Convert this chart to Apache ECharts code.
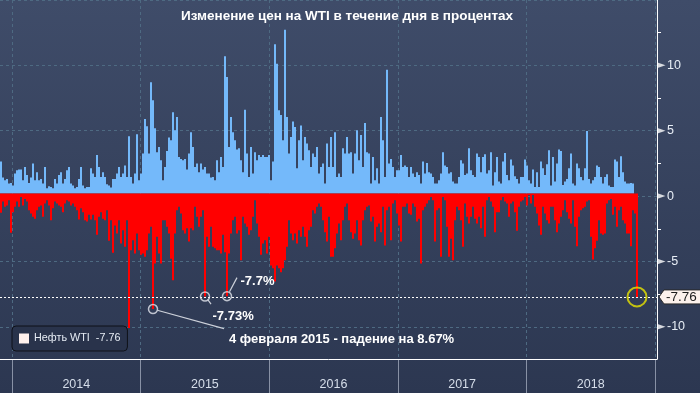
<!DOCTYPE html>
<html><head><meta charset="utf-8">
<script src="https://cdn.jsdelivr.net/npm/echarts@6/dist/echarts.min.js"></script>
<style>html,body{margin:0;padding:0;background:#2e3954}#c{width:700px;height:393px}</style>
</head><body><div id="c"></div>
<script>
// ---- data (~2px buckets of daily % changes) ----
const years = ['2014','2015','2016','2017','2018'];
const yTicks = [-10,-5,0,5,10];
const upMoves = [
2.4,1.2,1.0,1.1,0.75,0.8,0.6,1.5,1.75,1.8,
1.8,1.0,2.0,1.4,0.8,1.2,2.25,1.0,1.6,1.0,
1.1,0.75,2.0,0.4,0.55,0.5,0.4,1.1,0.75,1.4,
1.6,0.75,1.1,1.75,2.0,0.75,0.6,0.4,0.5,1.1,
2.0,0.6,0.4,0.5,0.5,1.9,1.5,1.25,2.9,2.0,
1.25,1.6,1.25,0.7,0.6,0.45,1.1,1.1,1.5,2.0,
1.25,1.5,2.1,1.25,4.3,1.25,0.75,1.5,4.45,1.0,
1.5,3.0,5.6,5.05,3.0,8.35,7.0,4.9,3.1,3.5,
2.5,1.0,2.0,3.2,4.2,4.0,6.1,4.75,5.75,2.75,
2.6,2.5,2.6,1.8,3.0,4.6,3.5,2.0,2.25,1.6,
2.25,1.8,2.0,1.5,1.5,1.2,1.25,1.0,2.5,1.6,
2.75,2.0,10.3,8.75,3.5,5.75,4.6,4.0,3.3,3.4,
2.5,1.6,6.3,3.0,1.25,3.5,1.5,3.1,2.5,2.9,
2.75,2.9,2.75,2.75,2.9,1.0,2.4,11.2,9.75,6.25,
5.9,4.0,12.3,5.75,3.0,4.25,5.4,5.0,1.9,4.0,
5.1,2.5,4.25,3.75,3.25,2.0,3.0,2.75,3.5,1.5,
2.0,2.25,0.75,3.75,2.0,4.25,2.0,4.6,1.25,1.5,
1.25,3.4,3.0,4.25,3.0,3.1,1.5,3.0,4.75,2.5,
4.4,2.0,5.3,3.1,3.0,0.75,2.75,1.0,1.9,0.75,
5.75,4.0,1.25,9.3,2.25,2.6,2.0,1.25,1.75,1.75,
2.9,2.0,2.1,2.0,1.25,2.0,1.5,1.25,1.6,1.4,
0.75,2.4,1.5,2.3,1.6,1.5,1.25,0.75,0.75,1.0,
1.5,3.1,2.1,2.0,1.5,1.6,0.9,0.75,0.75,1.25,
2.5,2.25,1.4,1.5,3.4,1.75,1.4,1.25,3.0,2.75,
1.6,2.75,2.95,1.5,1.75,3.1,0.6,1.6,2.75,0.9,
0.75,2.4,3.05,1.4,1.0,2.55,2.1,1.3,1.1,0.75,
1.25,1.25,2.55,2.1,1.0,0.75,1.8,0.5,1.6,0.5,
2.4,1.9,1.4,2.2,3.25,0.6,2.75,0.9,2.25,3.3,
3.2,0.65,0.9,1.1,1.9,3.0,0.75,0.6,2.25,1.9,
1.25,1.0,1.9,4.7,1.1,0.75,1.0,1.25,2.1,2.0,
1.25,0.75,1.25,1.45,0.6,0.5,0.5,2.55,2.4,1.25,
2.8,1.6,0.9,0.75,0.75,0.8,0.75,0,0
];
const downMoves = [
-1.45,-0.6,-1.0,-0.9,-0.5,-2.95,-1.4,-1.0,-0.6,-1.0,
-0.25,-0.9,-0.4,-0.6,-1.25,-1.5,-1.75,-1.9,-1.25,-1.0,
-0.9,-1.75,-0.75,-0.5,-0.9,-2.0,-1.1,-0.6,-0.75,-0.9,
-1.0,-1.4,-0.75,-0.5,-0.6,-0.9,-0.75,-1.0,-1.25,-1.95,
-1.1,-1.4,-2.0,-2.1,-1.6,-1.95,-1.6,-2.0,-3.1,-1.75,
-1.4,-1.9,-2.0,-1.25,-3.55,-2.0,-4.45,-2.4,-3.0,-2.0,
-3.75,-2.75,-4.0,-2.0,-10.1,-4.25,-3.5,-4.5,-3.0,-4.25,
-4.6,-4.5,-4.75,-4.25,-3.0,-2.5,-8.67,-5.25,-3.25,-4.5,
-5.25,-2.0,-2.0,-2.5,-3.0,-4.9,-6.5,-3.0,-1.25,-1.0,
-1.5,-2.75,-3.0,-2.6,-3.6,-2.6,-2.75,-1.0,-1.75,-2.5,
-1.75,-1.25,-7.73,-3.25,-4.0,-2.5,-4.0,-4.1,-4.25,-4.25,
-4.5,-3.1,-4.4,-7.7,-4.5,-3.0,-2.0,-1.75,-3.0,-2.75,
-5.0,-1.75,-2.25,-2.5,-3.1,-2.75,-1.75,-0.5,-2.25,-3.25,
-4.6,-3.75,-3.5,-4.5,-3.25,-5.4,-5.6,-6.6,-5.4,-5.6,
-5.9,-5.6,-5.0,-4.0,-2.0,-3.0,-3.5,-3.0,-3.75,-2.75,
-3.25,-2.5,-3.25,-4.0,-2.75,-2.5,-1.25,-1.5,-1.0,-0.75,
-1.0,-2.0,-2.9,-3.6,-1.75,-4.75,-4.75,-4.1,-3.0,-2.25,
-3.5,-2.0,-1.0,-0.75,-2.0,-2.9,-3.4,-3.0,-2.0,-3.5,
-3.9,-2.0,-1.25,-1.0,-0.9,-2.1,-1.75,-3.6,-2.5,-2.25,
-2.9,-1.0,-3.9,-1.25,-1.0,-3.5,-0.75,-0.5,-1.5,-2.4,
-3.6,-1.0,-1.0,-0.75,-1.5,-1.6,-0.75,-1.0,-2.1,-1.9,
-5.25,-1.25,-1.0,-0.75,-0.5,-0.25,-0.5,-3.6,-1.25,-1.1,
-4.75,-0.25,-0.5,-2.5,-4.75,-3.4,-5.0,-2.0,-1.0,-1.25,
-2.0,-4.0,-0.75,-1.75,-2.25,-1.75,-1.0,-1.9,-2.25,-1.75,
-2.6,-1.0,-3.25,-0.5,-0.25,-0.6,-1.0,-2.9,-1.4,-1.4,
-0.5,-0.25,-0.6,-0.75,-1.75,-0.75,-0.6,-1.4,-2.8,-1.0,
-0.6,-0.5,-0.25,-0.9,-0.1,-0.75,-0.1,-1.0,-1.5,-2.4,
-3.1,-1.0,-1.5,-2.0,-2.25,-1.0,-1.0,-2.0,-2.9,-2.25,
-1.75,-1.25,-0.5,-1.4,-1.9,-2.25,-0.5,-2.5,-3.95,-1.75,
-1.25,-1.1,-1.0,-0.6,-0.5,-3.25,-4.95,-4.1,-3.55,-2.0,
-3.0,-3.1,-3.0,-0.75,-0.5,-0.4,-1.6,-1.0,-2.5,-1.25,
-1.0,-2.0,-2.25,-3.0,-3.0,-3.95,-1.25,-1.5,-7.76
];
const lastMove = -7.76;
const lastIdx = 318;
const eventIdx = [76, 102, 113];
const eventVal = [-8.67, -7.73, -7.7];
const eventText = ['4 февраля 2015 - падение на 8.67%', '-7.73%', '-7.7%'];
const seriesName = 'Нефть WTI';
const titleText = 'Изменение цен на WTI в течение дня в процентах';

// ---- layout / style ----
const SANS = "'Liberation Sans',Arial,sans-serif";
const GRIDC = '#4e6a82';
const toPt = (arr) => arr.map((v, i) => [i + 0.5, v]);

const chart = echarts.init(document.getElementById('c'));
const option = {
  animation: false,
  backgroundColor: {type:'linear', x:0, y:0, x2:0, y2:1,
    colorStops:[{offset:0, color:'#3f4c69'}, {offset:1, color:'#2c3751'}]},
  legend: {
    data: [{name: seriesName, itemStyle: {color: '#fff1ed'}}],
    left: 12, top: 326, icon: 'rect', itemWidth: 10, itemHeight: 10,
    backgroundColor: '#29334b', borderColor: '#0e1118', borderWidth: 1, borderRadius: 4,
    padding: [7, 7, 7, 7], selectedMode: false,
    formatter: n => n + '  ' + lastMove,
    textStyle: {color: '#e6ecf4', fontSize: 10.8, fontFamily: SANS}
  },
  grid: [
    {left: 0, top: 0, width: 657, height: 359},
    {left: 0, top: -6.2, width: 657, height: 333},
    {left: 12, top: 0, width: 643, height: 359},
    {left: 12, top: 359, width: 643, height: 34}
  ],
  xAxis: [
    {gridIndex: 0, type: 'value', min: 0, max: 328.5,
      axisLine: {show: true, onZero: false, lineStyle: {color: '#ffffff', width: 1}},
      axisTick: {show: false}, axisLabel: {show: false}, splitLine: {show: false}},
    {gridIndex: 1, type: 'value', min: 0, max: 1, show: false},
    {gridIndex: 2, type: 'value', min: 2014, max: 2019, interval: 1,
      axisLine: {show: false}, axisTick: {show: false}, axisLabel: {show: false},
      splitLine: {show: true, lineStyle: {color: GRIDC, type: [3, 3], width: 1}}},
    {gridIndex: 3, type: 'value', min: 2014, max: 2019, interval: 1, position: 'top',
      axisLine: {show: false},
      axisTick: {show: true, inside: true, length: 4, lineStyle: {color: '#ffffff'}},
      minorTick: {show: true, splitNumber: 4, length: 4, lineStyle: {color: '#ffffff'}},
      axisLabel: {show: false},
      splitLine: {show: true, lineStyle: {color: '#8891a5', width: 1}}},
    {gridIndex: 3, type: 'category', data: years, position: 'top', boundaryGap: true,
      axisLine: {show: false}, axisTick: {show: false}, splitLine: {show: false},
      axisLabel: {inside: true, margin: 19, color: '#d6deea', fontSize: 12.5, fontFamily: SANS}}
  ],
  yAxis: [
    {gridIndex: 0, type: 'value', min: -12.42, max: 14.53, position: 'right',
      axisLine: {show: true, onZero: false, lineStyle: {color: '#ffffff', width: 1}},
      axisTick: {show: false}, axisLabel: {show: false}, splitLine: {show: false}},
    {gridIndex: 1, type: 'value', min: -10, max: 15, interval: 5, position: 'right',
      axisLine: {show: false, onZero: false}, axisTick: {show: false},
      minorTick: {show: true, splitNumber: 2, length: 4, lineStyle: {color: '#ffffff'}},
      splitLine: {show: true, lineStyle: {color: GRIDC, type: [3, 3], width: 1}},
      axisLabel: {margin: 10, color: '#e8eef6', fontSize: 12.5, fontFamily: SANS,
        formatter: v => (yTicks.indexOf(v) < 0 ? '' : String(v))}},
    {gridIndex: 2, type: 'value', show: false},
    {gridIndex: 3, type: 'value', show: false}
  ],
  series: [
    {type: 'bar', name: seriesName, xAxisIndex: 0, yAxisIndex: 0, stack: 'd', barWidth: 2,
      data: toPt(upMoves), itemStyle: {color: '#74b9fa'}, silent: true},
    {type: 'bar', name: seriesName, xAxisIndex: 0, yAxisIndex: 0, stack: 'd', barWidth: 2,
      data: toPt(downMoves), itemStyle: {color: '#ff0000'}, silent: true,
      markLine: {silent: true, symbol: ['none', 'none'], label: {show: false},
        lineStyle: {color: '#ffffff', width: 1, type: [2, 2]},
        data: [{yAxis: lastMove}]}},
    {type: 'scatter', xAxisIndex: 0, yAxisIndex: 0, z: 5, silent: true,
      data: eventIdx.map((i, k) => [i + 0.5, eventVal[k]]),
      symbol: 'circle', symbolSize: 9,
      itemStyle: {color: 'rgba(0,0,0,0)', borderColor: '#e2e5ec', borderWidth: 1.5}},
    {type: 'scatter', xAxisIndex: 0, yAxisIndex: 0, z: 5, silent: true,
      data: [[lastIdx + 0.5, lastMove]], symbol: 'circle', symbolSize: 19,
      itemStyle: {color: 'rgba(0,0,0,0)', borderColor: '#e8e400', borderWidth: 2}},
    {type: 'scatter', xAxisIndex: 1, yAxisIndex: 1, z: 6, silent: true, clip: false,
      data: yTicks.map(v => [1, v]),
      symbol: 'path://M0,0L10,3.5L0,7Z', symbolSize: [8, 5.5], symbolOffset: [4.5, 0],
      itemStyle: {color: '#ffffff'}}
  ]
};
chart.setOption(option);

// ---- annotations positioned from the data coordinates ----
const px = (x, v) => chart.convertToPixel({xAxisIndex: 0, yAxisIndex: 0}, [x, v]);
const lineOff = [[[4.3, 1.2], [71, 19.5]], [[2.6, 2.9], [6, 7.5]], [[2.5, -4.3], [10, -18.5]]];
const textOff = [[76, 30], [7.5, 20], [13.5, -14.5]];
const graphics = [];
graphics.push({type: 'text', x: 347, y: 16, z: 10,
  style: {text: titleText, fill: '#ffffff', font: 'bold 13.5px ' + SANS, textAlign: 'center', textVerticalAlign: 'middle'}});
eventIdx.forEach((i, k) => {
  const p = px(i + 0.5, eventVal[k]);
  graphics.push({type: 'line', z: 10, silent: true,
    shape: {x1: p[0] + lineOff[k][0][0], y1: p[1] + lineOff[k][0][1], x2: p[0] + lineOff[k][1][0], y2: p[1] + lineOff[k][1][1]},
    style: {stroke: '#cdd1da', lineWidth: 1.2}});
  graphics.push({type: 'text', z: 10, x: p[0] + textOff[k][0], y: p[1] + textOff[k][1],
    style: {text: eventText[k], fill: '#ffffff', font: 'bold 13px ' + SANS, textVerticalAlign: 'middle'}});
});
const edge = px(328.5, lastMove);
graphics.push({type: 'polygon', z: 10, silent: true,
  shape: {points: [[edge[0] + 2, edge[1]], [edge[0] + 7, edge[1] - 7], [edge[0] + 48, edge[1] - 7], [edge[0] + 48, edge[1] + 7], [edge[0] + 7, edge[1] + 7]]},
  style: {fill: '#fcf1ec', stroke: '#2a2a2a', lineWidth: 1}});
graphics.push({type: 'text', z: 11, x: edge[0] + 9, y: edge[1],
  style: {text: String(lastMove), fill: '#1c1c1c', font: '13.5px ' + SANS, textVerticalAlign: 'middle'}});
chart.setOption({graphic: graphics});
</script>
</body></html>
